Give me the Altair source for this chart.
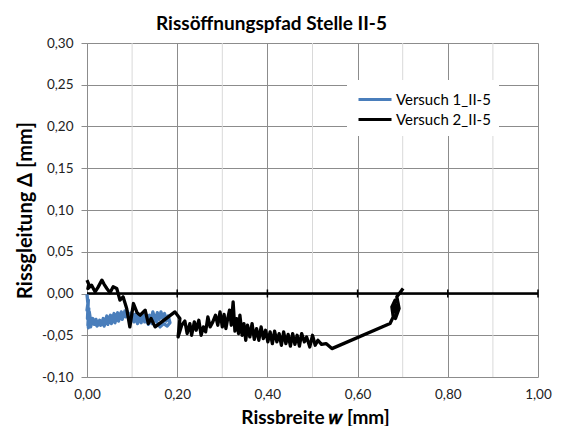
import altair as alt
import pandas as pd

# ---- data ----
series_names = ["Versuch 1_II-5", "Versuch 2_II-5"]
series_colors = ["#4a7ebb", "#000000"]

v1_w = [0.000, 0.002, 0.000, 0.003, 0.001, 0.004, 0.002, 0.005, 0.003, 0.007, 0.005, 0.009, 0.006, 0.011,
        0.008, 0.013, 0.016, 0.020, 0.024, 0.028, 0.032, 0.036, 0.040, 0.044, 0.048, 0.052, 0.056, 0.060,
        0.064, 0.068, 0.072, 0.076, 0.080, 0.084, 0.088, 0.092, 0.096, 0.100, 0.104, 0.108, 0.112, 0.116,
        0.120, 0.124, 0.128, 0.132, 0.136, 0.140, 0.144, 0.148, 0.152, 0.156, 0.160, 0.164, 0.168, 0.172,
        0.176, 0.180, 0.184, 0.178, 0.170, 0.162, 0.156,
        0.150, 0.146, 0.142, 0.138, 0.134, 0.130, 0.126, 0.122, 0.118, 0.114, 0.110, 0.106, 0.102, 0.098,
        0.094, 0.090, 0.086, 0.082, 0.078, 0.074, 0.070, 0.066, 0.062, 0.058, 0.054, 0.050, 0.046, 0.042,
        0.038, 0.034, 0.030, 0.026, 0.022, 0.018, 0.014]
v1_d = [-0.001, -0.012, -0.020, -0.008, -0.030, -0.018, -0.038, -0.026, -0.041, -0.032, -0.022, -0.036,
        -0.028, -0.034, -0.040, -0.030, -0.037, -0.031, -0.038, -0.032, -0.037, -0.030, -0.035, -0.027,
        -0.033, -0.026, -0.031, -0.024, -0.030, -0.023, -0.029, -0.022, -0.028, -0.021, -0.027, -0.024,
        -0.031, -0.026, -0.034, -0.028, -0.036, -0.029, -0.035, -0.027, -0.034, -0.028, -0.037, -0.029,
        -0.036, -0.025, -0.033, -0.023, -0.031, -0.022, -0.030, -0.024, -0.033, -0.027, -0.035, -0.039,
        -0.036, -0.040, -0.035,
        -0.030, -0.022, -0.033, -0.026, -0.035, -0.025, -0.032, -0.024, -0.033, -0.026, -0.031, -0.025,
        -0.030, -0.023, -0.029, -0.022, -0.028, -0.025, -0.031, -0.026, -0.033, -0.028, -0.035, -0.029,
        -0.036, -0.030, -0.037, -0.032, -0.039, -0.033, -0.038, -0.034, -0.039, -0.033, -0.038]

v2_w = [0.000, 0.004, 0.002, 0.010, 0.018, 0.024, 0.033, 0.038, 0.044, 0.051, 0.058, 0.066, 0.073, 0.080,
        0.088, 0.095, 0.103, 0.111, 0.118, 0.129, 0.136, 0.142, 0.151, 0.173,
        0.195, 0.206, 0.202, 0.210, 0.217, 0.222, 0.228, 0.232, 0.238, 0.242, 0.248, 0.253, 0.258, 0.263,
        0.268, 0.273, 0.279, 0.285, 0.290, 0.295,
        0.300, 0.304, 0.308, 0.312, 0.316, 0.320, 0.324, 0.328, 0.332, 0.336, 0.339, 0.344, 0.348, 0.352,
        0.356, 0.361, 0.366, 0.371, 0.376, 0.381, 0.386, 0.391, 0.396, 0.401, 0.406, 0.411, 0.416, 0.421,
        0.426, 0.431, 0.436, 0.441, 0.446, 0.451, 0.456, 0.461, 0.466, 0.471, 0.476, 0.482, 0.487, 0.494,
        0.500, 0.506, 0.512, 0.520, 0.530, 0.543,
        0.672, 0.679, 0.676, 0.683, 0.679, 0.690, 0.684, 0.692, 0.687, 0.698, 0.701]
v2_d = [0.016, 0.011, 0.006, 0.010, 0.002, 0.007, 0.016, 0.011, 0.006, 0.001, 0.008, 0.006, -0.008, -0.004,
        -0.018, -0.040, -0.012, -0.023, -0.026, -0.020, -0.036, -0.030, -0.040, -0.031,
        -0.022, -0.030, -0.052, -0.038, -0.033, -0.048, -0.036, -0.050, -0.034, -0.044, -0.032, -0.050,
        -0.040, -0.046, -0.028, -0.040, -0.034, -0.026, -0.038, -0.022,
        -0.040, -0.025, -0.042, -0.030, -0.020, -0.038, -0.010, -0.045, -0.030, -0.048, -0.026, -0.050,
        -0.036, -0.056, -0.038, -0.052, -0.036, -0.055, -0.042, -0.056, -0.040, -0.054, -0.044, -0.058,
        -0.046, -0.060, -0.045, -0.058, -0.048, -0.062, -0.046, -0.060, -0.049, -0.063, -0.048, -0.061,
        -0.050, -0.063, -0.048, -0.058, -0.052, -0.064, -0.050, -0.062, -0.056, -0.061, -0.060, -0.066,
        -0.036, -0.028, -0.016, -0.008, -0.023, -0.012, -0.030, -0.018, -0.004, 0.004, 0.006]

x_major = [0.0, 0.2, 0.4, 0.6, 0.8, 1.0]
x_minor = [0.1, 0.3, 0.5, 0.7, 0.9]
zero_ticks = [0.2, 0.4, 0.6, 0.8, 1.0]
y_ticks = [-0.10, -0.05, 0.0, 0.05, 0.10, 0.15, 0.20, 0.25, 0.30]

rows = []
for i, (w, d) in enumerate(zip(v1_w, v1_d)):
    rows.append({"serie": series_names[0], "w": w, "d": d, "i": i})
for i, (w, d) in enumerate(zip(v2_w, v2_d)):
    rows.append({"serie": series_names[1], "w": w, "d": d, "i": i})
df = pd.DataFrame(rows)

FONT = "Lato"
GRID = "#8c8c8c"
label_expr = "(datum.value < 0 ? '-' : '') + replace(format(abs(datum.value), '.2f'), '.', ',')"

xscale = alt.Scale(domain=[0, 1], nice=False, zero=False)
yscale = alt.Scale(domain=[-0.10, 0.30], nice=False, zero=False)

x_axis = alt.Axis(values=x_major, grid=True, gridColor=GRID, gridWidth=1, domain=False, ticks=False,
                  tickSize=0, labelPadding=10, labelFlush=False, labelExpr=label_expr,
                  labelFont=FONT, labelFontSize=13.5, labelColor="#222222",
                  title="Rissbreite \U0001D464 [mm]", titleFont=FONT, titleFontSize=19,
                  titleFontWeight="bold", titleColor="#000000", titleX=228, titleY=40,
                  titleBaseline="middle", titleAlign="center")
y_axis = alt.Axis(values=y_ticks, grid=True, gridColor=GRID, gridWidth=1, domain=True,
                  domainColor=GRID, ticks=True, tickColor=GRID, tickSize=6, labelPadding=8,
                  labelFlush=False, labelExpr=label_expr, labelFont=FONT, labelFontSize=13.5,
                  labelColor="#222222",
                  title="Rissgleitung Δ [mm]", titleFont=FONT, titleFontSize=20, titleFontWeight="bold",
                  titleColor="#000000", titleAngle=270, titleX=-62, titleY=167,
                  titleBaseline="middle", titleAlign="center")


def X(field):
    return alt.X(field, type="quantitative", scale=xscale, axis=x_axis)


def Y(field):
    return alt.Y(field, type="quantitative", scale=yscale, axis=y_axis)


minor = alt.Chart(pd.DataFrame({"w": x_minor})).mark_rule(color="#d9d9d9", strokeWidth=1).encode(
    x=X("w")
)

zero_line = alt.Chart(pd.DataFrame({"d": [0.0]})).mark_rule(color="#000000", strokeWidth=2.5).encode(
    y=Y("d")
)

zt = alt.Chart(pd.DataFrame({"w": zero_ticks, "d": [0.0] * len(zero_ticks)})).mark_rule(
    color="#000000", strokeWidth=1.5, yOffset=-4, y2Offset=4
).encode(x=X("w"), y=Y("d"), y2="d")

lines = alt.Chart(df).mark_line(strokeWidth=3.3, strokeJoin="round").encode(
    x=X("w"),
    y=Y("d"),
    color=alt.Color("serie:N", scale=alt.Scale(domain=series_names, range=series_colors),
                    legend=alt.Legend(title=None, orient="none", legendX=260, legendY=37,
                                      fillColor="white", padding=8,
                                      symbolType="M-0.8,0L2.5,0",
                                      symbolSize=400, symbolStrokeWidth=3, labelFont=FONT,
                                      labelFontSize=15, labelColor="#000000", labelOffset=18,
                                      rowPadding=0)),
    order="i:Q",
    detail="serie:N",
)

chart = alt.layer(minor, zero_line, zt, lines).properties(
    width=451,
    height=334,
    padding={"left": 79, "top": 35, "right": 17, "bottom": 49},
    autosize=alt.AutoSizeParams(type="none"),
    title=alt.TitleParams("Rissöffnungspfad Stelle II-5", font=FONT, fontSize=19, fontWeight="bold",
                          color="#000000", offset=2, dx=-41, anchor="middle"),
).configure_view(stroke=None)

chart.save("out.html", embed_options={"renderer": "svg", "actions": False})
